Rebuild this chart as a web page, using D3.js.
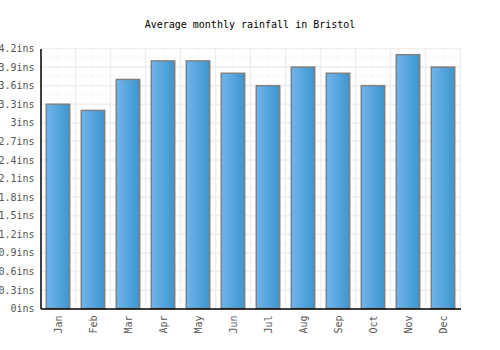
<!DOCTYPE html>
<html>
<head>
<meta charset="utf-8">
<script src="https://cdn.jsdelivr.net/npm/d3@7"></script>
<style>
  body { margin: 0; background: #fff; }
  svg text { font-family: "DejaVu Sans Mono", monospace; }
</style>
</head>
<body>
<svg id="chart"></svg>
<script>
const months = ["Jan", "Feb", "Mar", "Apr", "May", "Jun", "Jul", "Aug", "Sep", "Oct", "Nov", "Dec"];
const rainfall = [3.3, 3.2, 3.7, 4.0, 4.0, 3.8, 3.6, 3.9, 3.8, 3.6, 4.1, 3.9];
const yTicks = [0, 0.3, 0.6, 0.9, 1.2, 1.5, 1.8, 2.1, 2.4, 2.7, 3, 3.3, 3.6, 3.9, 4.2];

function renderChart() {
    const margin = { top: 48.5, right: 39.5, bottom: 41.5, left: 40.5 };
    const width = 500 - margin.left - margin.right;
    const height = 350 - margin.top - margin.bottom;

    const svg = d3.select('#chart')
        .attr('width', 500)
        .attr('height', 350);

    // gradient for the bars
    const grad = svg.append('defs').append('linearGradient')
        .attr('id', 'barGrad')
        .attr('x1', '0%').attr('x2', '100%').attr('y1', '0%').attr('y2', '0%');
    grad.append('stop').attr('offset', '0%').attr('stop-color', '#72b4ea');
    grad.append('stop').attr('offset', '100%').attr('stop-color', '#3b96cf');

    svg.append('text')
        .attr('x', 250)
        .attr('y', 28)
        .attr('text-anchor', 'middle')
        .style('font-size', '10px')
        .style('fill', '#000')
        .text('Average monthly rainfall in Bristol');

    const g = svg.append('g')
        .attr('transform', `translate(${margin.left},${margin.top})`);

    const xScale = d3.scaleBand()
        .domain(months)
        .range([0, width])
        .paddingInner(0.33)
        .paddingOuter(0.165);

    const yScale = d3.scaleLinear()
        .domain([0, 4.2])
        .range([height, 0]);

    // minor grid
    const step = width / months.length;
    g.append('g').selectAll('line.vminor')
        .data(months)
        .enter().append('line')
        .attr('x1', (d, i) => i * step + step / 2)
        .attr('x2', (d, i) => i * step + step / 2)
        .attr('y1', 0).attr('y2', height)
        .style('stroke', '#f7f7f7').style('stroke-width', 1);
    g.append('g').selectAll('line.hminor')
        .data(yTicks.slice(1))
        .enter().append('line')
        .attr('x1', 0).attr('x2', width)
        .attr('y1', d => yScale(d - 0.15))
        .attr('y2', d => yScale(d - 0.15))
        .style('stroke', '#f7f7f7').style('stroke-width', 1);

    // major grid
    g.append('g').selectAll('line')
        .data(months)
        .enter().append('line')
        .attr('x1', (d, i) => (i + 1) * step)
        .attr('x2', (d, i) => (i + 1) * step)
        .attr('y1', 0).attr('y2', height)
        .style('stroke', '#eeeeee').style('stroke-width', 1.5);
    g.append('g').selectAll('line')
        .data(yTicks.slice(1))
        .enter().append('line')
        .attr('x1', 0).attr('x2', width)
        .attr('y1', d => yScale(d)).attr('y2', d => yScale(d))
        .style('stroke', '#eeeeee').style('stroke-width', 1.5);

    // bars
    g.selectAll('rect.bar')
        .data(rainfall)
        .enter().append('rect')
        .attr('class', 'bar')
        .attr('x', (d, i) => xScale(months[i]))
        .attr('y', d => yScale(d))
        .attr('width', xScale.bandwidth())
        .attr('height', d => height - yScale(d))
        .style('fill', 'url(#barGrad)')
        .style('stroke', '#808080')
        .style('stroke-width', 1.5);

    // y axis
    const yAxis = g.append('g')
        .call(d3.axisLeft(yScale).tickValues(yTicks).tickSize(0).tickPadding(6)
            .tickFormat(d => d3.format('')(+d.toFixed(1)) + 'ins'));
    yAxis.select('.domain').style('stroke', '#000').style('stroke-width', 1.5);
    yAxis.selectAll('text').style('font-size', '10px').style('fill', '#555')
        .style('font-family', '"DejaVu Sans Mono", monospace');

    // x axis
    const xAxis = g.append('g')
        .attr('transform', `translate(0, ${height})`)
        .call(d3.axisBottom(xScale).tickSize(0));
    xAxis.select('.domain').style('stroke', '#000').style('stroke-width', 1.5);
    xAxis.selectAll('text')
        .attr('transform', 'rotate(-90)')
        .attr('text-anchor', 'end')
        .attr('x', -7)
        .attr('y', 0)
        .attr('dy', '0.35em')
        .style('font-size', '10px')
        .style('fill', '#555')
        .style('font-family', '"DejaVu Sans Mono", monospace');
}

renderChart();
</script>
</body>
</html>
